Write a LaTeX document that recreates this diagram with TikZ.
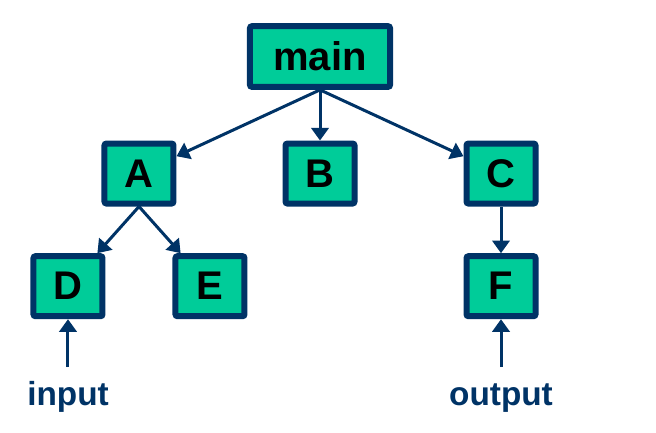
\documentclass[tikz,border=0pt]{standalone}
\usepackage{fontspec}
\setmainfont{Liberation Sans}
\usepackage{xcolor}
\usetikzlibrary{arrows.meta, positioning}

\definecolor{boxgreen}{RGB}{0,204,153}
\definecolor{navy}{RGB}{0,51,102}

\begin{document}
\begin{tikzpicture}[
    modbox/.style={rectangle, draw=navy, fill=boxgreen, line width=4.5pt, rounded corners=1.5pt, minimum width=51.75pt, minimum height=45pt, inner sep=0pt, font=\fontsize{30}{36}\selectfont\bfseries},
    mainbox/.style={modbox, minimum width=105pt, minimum height=45.5pt},
    iolabel/.style={text=navy, inner xsep=0pt, inner ysep=21.5pt, text height=0.72em, text depth=0.21em, font=\fontsize{25}{30}\selectfont\bfseries},
    arrow/.style={-{Triangle[length=9.5pt,width=13pt]}, draw=navy, fill=navy, line width=2.25pt}
]
\useasboundingbox (-240pt,42.4pt) rectangle (252pt,-281.6pt);

% Top level
\node[mainbox] (main) at (0,0) {main};

% Second level
\node[modbox, below=38pt of main, xshift=-135.75pt] (A) {A};
\node[modbox, below=38pt of main] (B) {B};
\node[modbox, below=38pt of main, xshift=135.75pt] (C) {C};

% Third level
\node[modbox, below=35pt of A, xshift=-53.25pt] (D) {D};
\node[modbox, below=35pt of A, xshift=53.25pt] (E) {E};
\node[modbox, below=35pt of C] (F) {F};

% Input / output
\node[iolabel, below=36pt of D] (input) {input};
\node[iolabel, below=36pt of F] (output) {output};

% Arrows
\draw[arrow] (main.south) -- (A);
\draw[arrow] (main.south) -- (B);
\draw[arrow] (main.south) -- (C);
\draw[arrow] (A.south) -- (D);
\draw[arrow] (A.south) -- (E);
\draw[arrow] (C) -- (F);
\draw[arrow] (input) -- (D);
\draw[arrow] (output) -- (F);

\end{tikzpicture}
\end{document}
